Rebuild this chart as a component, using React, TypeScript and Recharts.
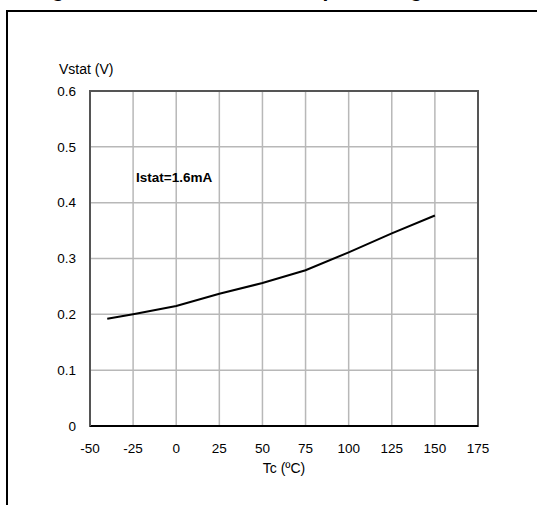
import React from "react";
import {
  LineChart,
  Line,
  XAxis,
  YAxis,
  CartesianGrid,
  ReferenceArea,
  ReferenceDot,
} from "recharts";

const temperatures = [-40, -25, 0, 25, 50, 75, 100, 125, 150];
const vstatValues = [0.192, 0.2, 0.215, 0.237, 0.256, 0.279, 0.311, 0.345, 0.377];
const xTicks = [-50, -25, 0, 25, 50, 75, 100, 125, 150, 175];
const yTicks = [0, 0.1, 0.2, 0.3, 0.4, 0.5, 0.6];
const annotationText = "Istat=1.6mA";
const annotationX = -22.7;
const annotationY = 0.437;
const titleText = "Figure 9. Status low level output voltage";
const yAxisTitle = "Vstat (V)";
const xAxisTitle = "Tc (ºC)";

const data = temperatures.map((t, i) => ({ t, v: vstatValues[i] }));

const FONT = "Arial, 'Liberation Sans', Helvetica, sans-serif";

export default function App() {
  return (
    <div
      style={{
        position: "absolute",
        left: 0,
        top: 0,
        width: 537,
        height: 505,
        overflow: "hidden",
        background: "#fff",
        fontFamily: FONT,
      }}
    >
      <div
        style={{
          position: "absolute",
          left: 33,
          top: -22,
          fontSize: 21,
          fontWeight: "bold",
          whiteSpace: "nowrap",
          lineHeight: "24px",
          color: "#000",
        }}
      >
        {titleText}
      </div>
      <div
        style={{
          position: "absolute",
          left: 6,
          top: 10,
          width: 600,
          height: 600,
          borderTop: "2px solid #000",
          borderLeft: "2px solid #000",
        }}
      />
      <div style={{ position: "absolute", left: 0, top: 0 }}>
        <LineChart
          width={537}
          height={505}
          data={data}
          margin={{ top: 91, right: 59, bottom: 19, left: 30 }}
        >
          <CartesianGrid stroke="#b8b8b8" strokeWidth={1.5} />
          <XAxis
            dataKey="t"
            type="number"
            domain={[-50, 175]}
            ticks={xTicks}
            interval={0}
            height={60}
            tickSize={0}
            tickMargin={17}
            axisLine={{ stroke: "#000", strokeWidth: 2 }}
            tickLine={false}
            tick={{ fill: "#000", fontSize: 13.5, fontFamily: FONT }}
            label={(props: any) => {
              const vb = props.viewBox || {};
              return (
                <text
                  x={vb.x + vb.width / 2}
                  y={vb.y + 47}
                  textAnchor="middle"
                  fontSize={14}
                  fontFamily={FONT}
                  fill="#000"
                >
                  {xAxisTitle}
                </text>
              );
            }}
          />
          <YAxis
            type="number"
            domain={[0, 0.6]}
            ticks={yTicks}
            interval={0}
            width={60}
            tickSize={0}
            tickMargin={14}
            axisLine={{ stroke: "#555", strokeWidth: 2 }}
            tickLine={false}
            tick={{ fill: "#000", fontSize: 13.5, fontFamily: FONT }}
            label={(props: any) => {
              const vb = props.viewBox || {};
              return (
                <text
                  x={vb.x + vb.width - 31}
                  y={vb.y - 17}
                  textAnchor="start"
                  fontSize={14}
                  fontFamily={FONT}
                  fill="#000"
                >
                  {yAxisTitle}
                </text>
              );
            }}
          />
          <ReferenceArea
            x1={-50}
            x2={175}
            y1={0}
            y2={0.6}
            fill="none"
            fillOpacity={0}
            stroke="#555"
            strokeWidth={2}
            ifOverflow="visible"
          />
          <Line
            dataKey="v"
            type="linear"
            stroke="#000"
            strokeWidth={2}
            dot={false}
            activeDot={false}
            isAnimationActive={false}
          />
          <ReferenceDot
            x={annotationX}
            y={annotationY}
            r={1}
            fill="none"
            stroke="none"
            label={(props: any) => {
              const vb = props.viewBox || {};
              return (
                <text
                  x={vb.x}
                  y={vb.y + 1}
                  textAnchor="start"
                  fontSize={13.5}
                  fontWeight="bold"
                  fontFamily={FONT}
                  fill="#000"
                >
                  {annotationText}
                </text>
              );
            }}
          />
        </LineChart>
      </div>
    </div>
  );
}
